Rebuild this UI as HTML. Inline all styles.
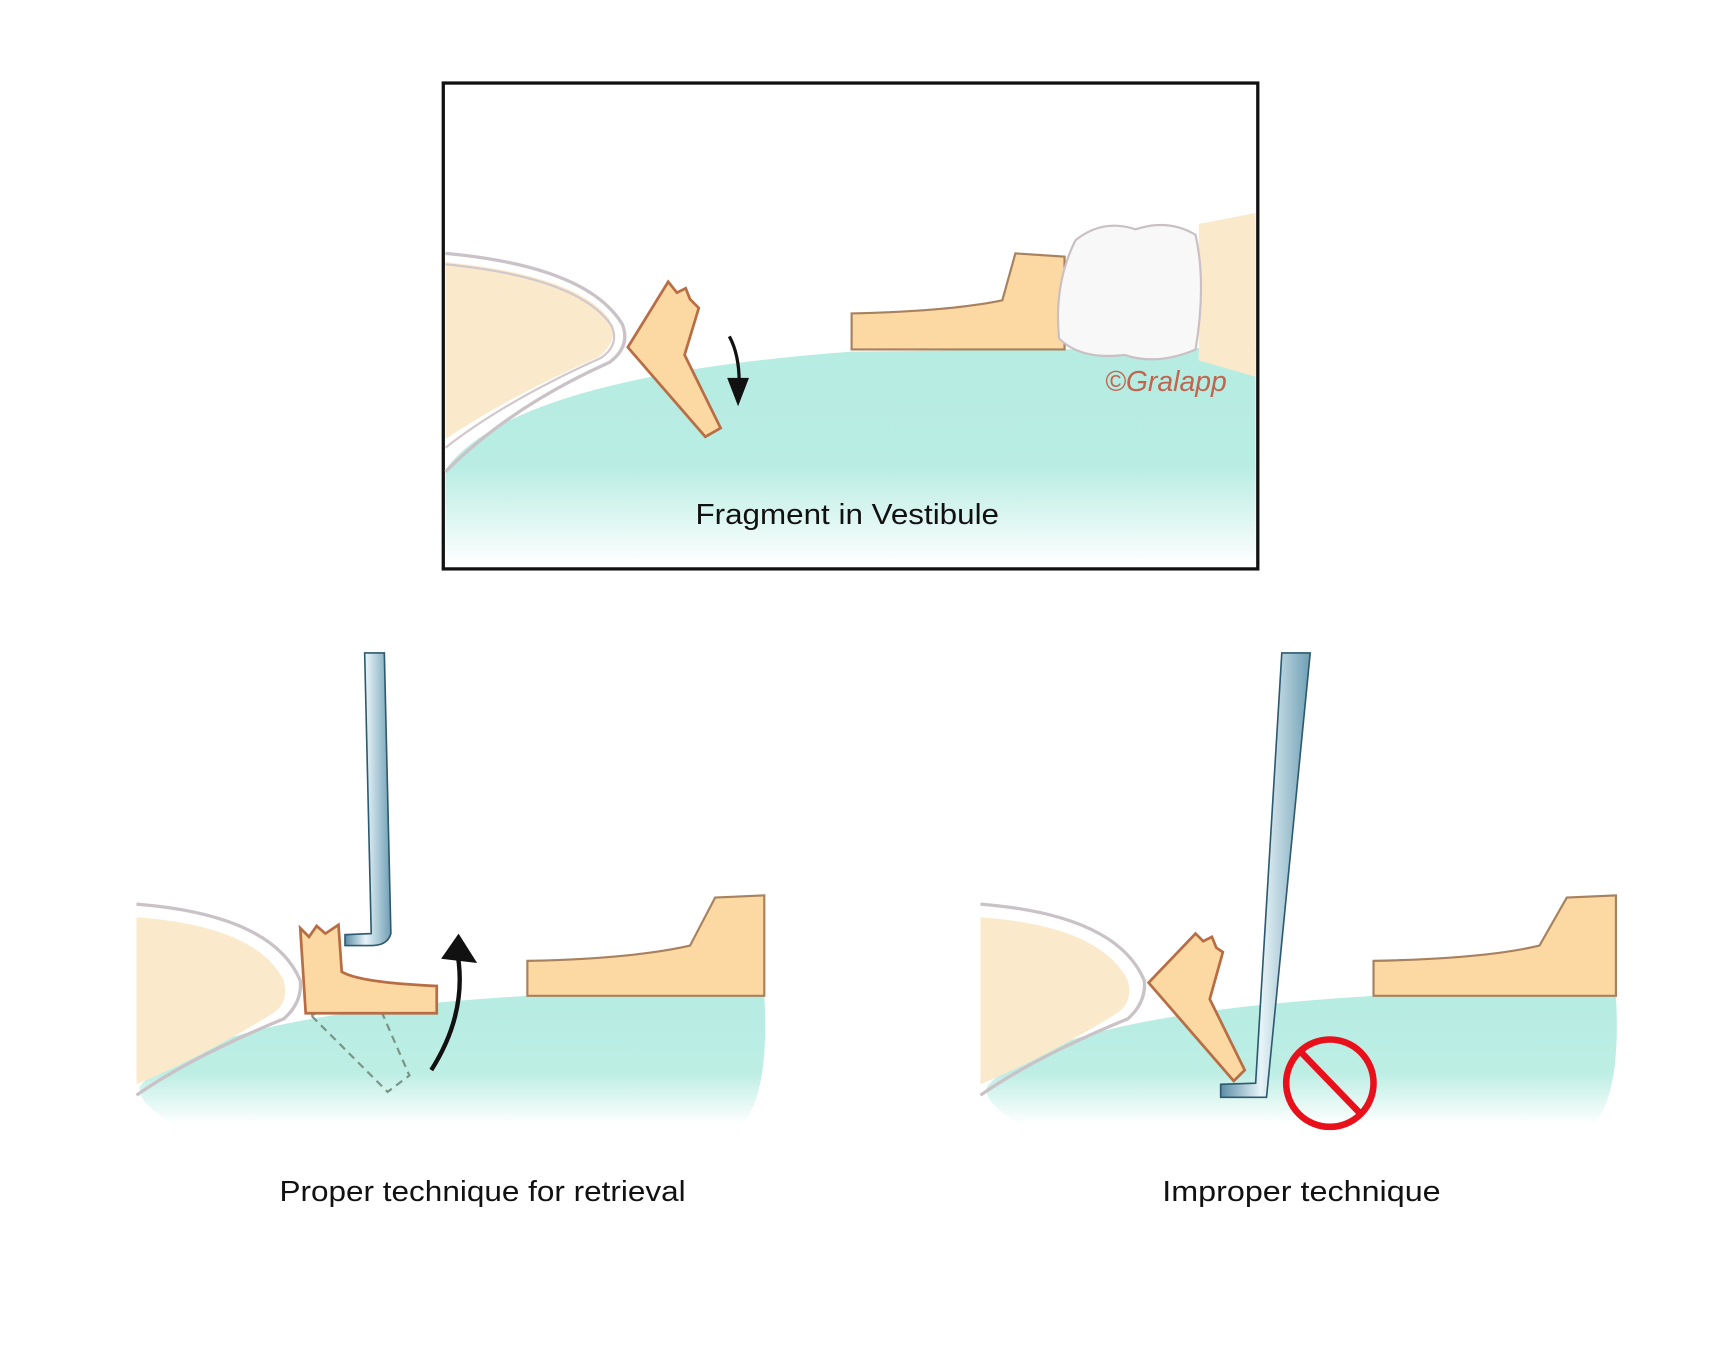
<!DOCTYPE html>
<html><head><meta charset="utf-8"><style>
html,body{margin:0;padding:0;background:#fff}
svg{display:block}
text{font-family:"Liberation Sans",sans-serif}
</style></head><body>
<svg width="1712" height="1354" viewBox="0 0 1568 1240" xmlns="http://www.w3.org/2000/svg">
<defs>
<linearGradient id="tg" x1="0" y1="0" x2="0" y2="1">
<stop offset="0" stop-color="#b6ece2"/><stop offset="0.55" stop-color="#b9ede3"/><stop offset="1" stop-color="#fff"/>
</linearGradient>
<linearGradient id="bg2" x1="0" y1="0" x2="0" y2="1">
<stop offset="0" stop-color="#b6ece2"/><stop offset="0.6" stop-color="#bdeee4"/><stop offset="1" stop-color="#fff"/>
</linearGradient>
<linearGradient id="steel" x1="0" y1="0" x2="1" y2="0">
<stop offset="0" stop-color="#5b8ea6"/><stop offset="0.45" stop-color="#e8f4f8"/><stop offset="1" stop-color="#6f9fb5"/>
</linearGradient>
</defs>
<!-- Top panel -->
<rect x="406" y="76" width="746" height="445" fill="#fff" stroke="#111" stroke-width="3"/>
<path d="M408,430 Q470,345 780,322 L1150,318 L1150,518 L408,518 Z" fill="url(#tg)"/>
<g transform="translate(408,232)">
<path d="M0,8 Q120,20 150,60 Q160,80 140,95 Q60,130 0,170 Z" fill="#fbe9cc"/>
<path d="M0,0 Q130,12 162,65 Q170,85 150,100 Q60,140 0,200" fill="none" stroke="#c9c2c6" stroke-width="3"/>
<path d="M0,10 Q122,22 152,66 Q160,84 142,96 Q55,135 0,178" fill="none" stroke="#d0c8ca" stroke-width="2"/>
</g>
<path d="M612,258 L620,268 L628,264 L632,274 L640,282 L627,325 L660,392 L646,400 L575,318 Z" fill="#fcd9a2" stroke="#b86d45" stroke-width="2.5"/>
<path d="M668,308 Q680,330 676,368" fill="none" stroke="#111" stroke-width="3"/>
<path d="M666,346 L676,372 L686,346 Z" fill="#111"/>
<path d="M780,287 L780,320 L975,320 L975,235 L930,232 L918,275 Q870,285 780,287 Z" fill="#fcd9a2" stroke="#a8825f" stroke-width="2"/>
<path d="M1098,205 L1150,195 L1150,345 L1098,330 Z" fill="#fbe9cc"/>
<path d="M985,220 Q1010,200 1040,210 Q1070,200 1095,215 Q1105,260 1095,320 Q1060,335 1030,325 Q990,330 970,310 Q965,260 985,220 Z" fill="#f8f8f8" stroke="#c9c0c4" stroke-width="2"/>
<text x="1012" y="358" font-family="Liberation Serif,serif" font-style="italic" font-size="26" fill="#c0654f">©Gralapp</text>
<text x="776" y="480" font-size="26" text-anchor="middle" fill="#111" textLength="278" lengthAdjust="spacingAndGlyphs">Fragment in Vestibule</text>
<!-- Bottom left -->
<path d="M128,995 Q180,930 483,912 L700,912 Q705,1000 680,1030 L160,1030 Q125,1010 128,995 Z" fill="url(#bg2)"/>
<g transform="translate(125,828)">
<path d="M0,12 Q110,20 135,70 Q140,90 125,100 Q60,140 0,165 Z" fill="#fbe9cc"/>
<path d="M0,0 Q125,10 150,70 Q152,90 135,105 Q50,140 0,175" fill="none" stroke="#c9c2c6" stroke-width="3"/>
</g>
<path d="M285,930 L340,905 L375,985 L355,1000 Z" fill="none" stroke="#7a9485" stroke-width="2" stroke-dasharray="7,5"/>
<path d="M275,850 L283,858 L290,848 L298,855 L310,847 L313,890 Q330,900 400,903 L400,928 L280,928 Z" fill="#fcd9a2" stroke="#b86d45" stroke-width="2.5"/>
<path d="M334,598 L352,598 L358,855 Q355,866 340,866 L316,866 L316,856 L340,855 Z" fill="url(#steel)" stroke="#2e5a70" stroke-width="1.5"/>
<path d="M395,980 Q430,925 418,868" fill="none" stroke="#111" stroke-width="4"/>
<path d="M404,878 L420,855 L437,882 Z" fill="#111"/>
<path d="M483,880 L483,912 L700,912 L700,820 L655,822 L632,866 Q580,878 483,880 Z" fill="#fcd9a2" stroke="#a8825f" stroke-width="2"/>
<text x="442" y="1100" font-size="26" text-anchor="middle" fill="#111" textLength="372" lengthAdjust="spacingAndGlyphs">Proper technique for retrieval</text>
<!-- Bottom right -->
<path d="M904,995 Q960,930 1258,912 L1480,912 Q1485,1000 1460,1030 L935,1030 Q900,1010 904,995 Z" fill="url(#bg2)"/>
<g transform="translate(898,828)">
<path d="M0,12 Q110,20 135,70 Q140,90 125,100 Q60,140 0,165 Z" fill="#fbe9cc"/>
<path d="M0,0 Q125,10 150,70 Q152,90 135,105 Q50,140 0,175" fill="none" stroke="#c9c2c6" stroke-width="3"/>
</g>
<path d="M1095,855 L1102,862 L1110,858 L1114,868 L1120,872 L1108,915 L1140,980 L1130,990 L1052,900 Z" fill="#fcd9a2" stroke="#b86d45" stroke-width="2.5"/>
<path d="M1174,598 L1200,598 L1160,1005 L1118,1005 L1118,993 L1150,992 Z" fill="url(#steel)" stroke="#2e5a70" stroke-width="1.5"/>
<circle cx="1218" cy="992" r="40" fill="none" stroke="#e8101a" stroke-width="6"/>
<line x1="1191" y1="963" x2="1247" y2="1021" stroke="#e8101a" stroke-width="6"/>
<path d="M1258,880 L1258,912 L1480,912 L1480,820 L1435,822 L1410,866 Q1360,878 1258,880 Z" fill="#fcd9a2" stroke="#a8825f" stroke-width="2"/>
<text x="1192" y="1100" font-size="26" text-anchor="middle" fill="#111" textLength="255" lengthAdjust="spacingAndGlyphs">Improper technique</text>
</svg>
</body></html>
